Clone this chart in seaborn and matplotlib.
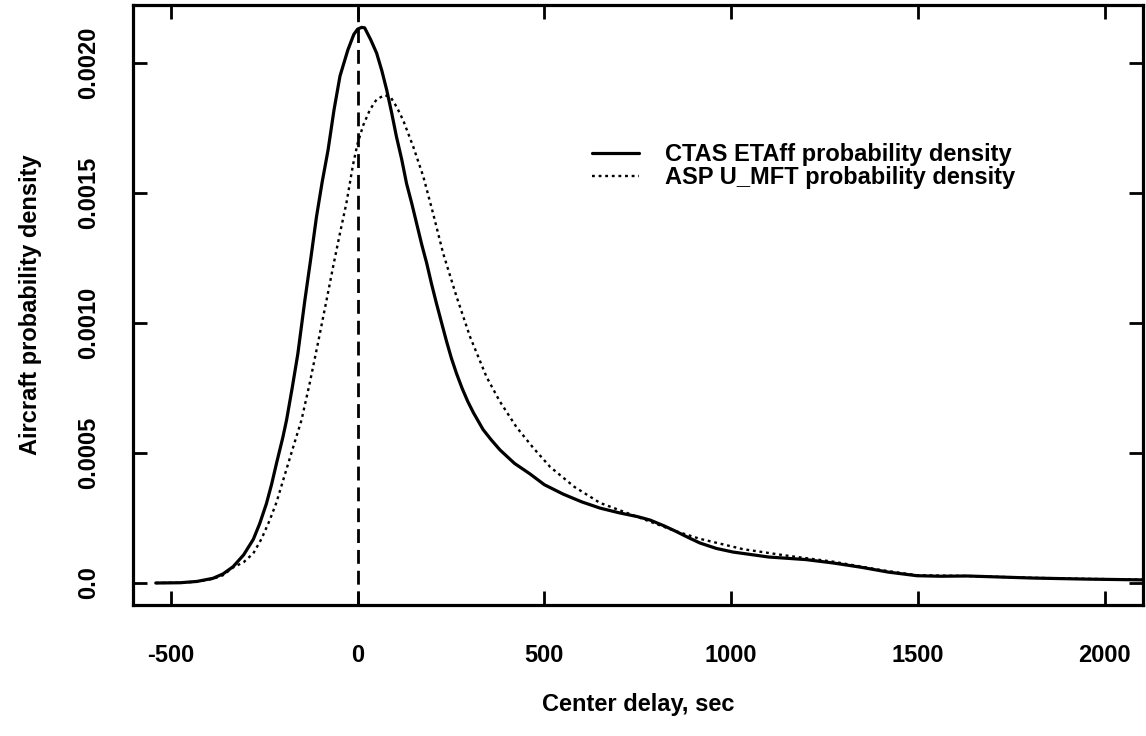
import numpy as np
import pandas as pd
import matplotlib
matplotlib.use("Agg")
import matplotlib.pyplot as plt
import seaborn as sns

# ---- data ----
ctas_x = [-540, -475, -430, -387, -360, -333, -305, -279, -262, -244, -230, -217, -200, -190,
          -175, -160, -141, -125, -110, -95, -79, -63, -47, -26, -10, 0, 11, 19, 35, 51, 65,
          78, 91, 104, 118, 131, 145, 158, 172, 185, 198, 211, 225, 238, 251, 265, 280, 295,
          310, 336, 358, 381, 420, 461, 500, 550, 600, 649, 700, 750, 783, 820, 850, 885, 916,
          960, 1005, 1100, 1200, 1273, 1350, 1420, 1497, 1560, 1631, 1720, 1808, 1950, 2100]
ctas_y = [0.0, 0.000001, 0.000006, 0.000018, 0.000035, 0.000063, 0.000108, 0.000168, 0.000228,
          0.000305, 0.00038, 0.00046, 0.00056, 0.000627, 0.00075, 0.00088, 0.001088, 0.00125,
          0.001408, 0.00154, 0.001665, 0.00182, 0.00195, 0.00205, 0.00211, 0.00213, 0.002137,
          0.002135, 0.00209, 0.002038, 0.00197, 0.001896, 0.00181, 0.001717, 0.00163, 0.001537,
          0.00146, 0.001383, 0.0013, 0.00123, 0.00115, 0.001076, 0.001, 0.00093, 0.000865,
          0.000805, 0.000748, 0.000698, 0.000655, 0.00059, 0.00055, 0.000512, 0.00046, 0.00042,
          0.000378, 0.000342, 0.000312, 0.000288, 0.00027, 0.000255, 0.000242, 0.00022, 0.0002,
          0.000175, 0.000154, 0.000133, 0.000119, 0.0001, 0.00009, 0.000077, 0.00006, 0.000042,
          0.000028, 0.000026, 0.000027, 0.000023, 0.000019, 0.000015, 0.000012]

asp_x = [-540, -475, -430, -387, -360, -333, -305, -279, -257, -235, -217, -199, -172, -150,
         -128, -105, -83, -65, -47, -30, -12, 0, 15, 33, 51, 73, 90, 105, 122, 149, 176, 202,
         229, 265, 301, 345, 380, 425, 470, 515, 580, 649, 720, 783, 850, 916, 1032, 1150,
         1273, 1400, 1496, 1630, 1808, 1950, 2100]
asp_y = [0.0, 0.000001, 0.000005, 0.000016, 0.00003, 0.00006, 0.00008, 0.000114, 0.00017,
         0.000242, 0.00031, 0.000396, 0.000524, 0.000627, 0.000769, 0.00093, 0.001088, 0.00122,
         0.001346, 0.00146, 0.00161, 0.00169, 0.00176, 0.00182, 0.00186, 0.001877, 0.001865,
         0.00183, 0.00178, 0.001678, 0.001563, 0.001422, 0.001268, 0.001101, 0.000947,
         0.000793, 0.0007, 0.0006, 0.00052, 0.000447, 0.00037, 0.000308, 0.00027, 0.000236,
         0.0002, 0.00017, 0.00013, 0.000105, 0.000082, 0.00005, 0.00003, 0.000027, 0.00002,
         0.000016, 0.000013]

series_labels = ["CTAS ETAff probability density", "ASP U_MFT probability density"]
x_ticks = [-500, 0, 500, 1000, 1500, 2000]
y_ticks = [0.0, 0.0005, 0.0010, 0.0015, 0.0020]
y_tick_labels = ["0.0", "0.0005", "0.0010", "0.0015", "0.0020"]
ref_line_x = 0

df = pd.concat([
    pd.DataFrame({"delay": ctas_x, "density": ctas_y, "series": series_labels[0]}),
    pd.DataFrame({"delay": asp_x, "density": asp_y, "series": series_labels[1]}),
], ignore_index=True)

sns.set_style("ticks")
plt.rcParams["font.family"] = ["Liberation Sans", "DejaVu Sans"]
plt.rcParams["font.weight"] = "bold"
plt.rcParams["text.color"] = "black"
plt.rcParams["axes.labelcolor"] = "black"
plt.rcParams["axes.labelweight"] = "bold"

FS = 17

fig = plt.figure(figsize=(11.46, 7.36), dpi=100)
ax = fig.add_axes([133 / 1146, 131 / 736, (1143 - 133) / 1146, (605 - 5) / 736])

sns.lineplot(data=df[df.series == series_labels[0]], x="delay", y="density", ax=ax,
             color="black", linewidth=2.3, sort=False, label=series_labels[0])
sns.lineplot(data=df[df.series == series_labels[1]], x="delay", y="density", ax=ax,
             color="black", linewidth=1.7, sort=False, label=series_labels[1],
             linestyle=(0, (1.2, 1.6)))

ax.axvline(ref_line_x, ymin=0, ymax=1, color="black", linewidth=2.0,
           linestyle=(0, (5, 2.5)))

ax.set_xlim(-601, 2102)
ax.set_ylim(-0.0000846, 0.002223)
ax.set_xticks(x_ticks)
ax.set_xticklabels([str(v) for v in x_ticks], fontweight="bold")
ax.set_yticks(y_ticks)
ax.set_yticklabels(y_tick_labels, rotation=90, va="center", fontweight="bold")

for s in ax.spines.values():
    s.set_linewidth(2.3)
    s.set_color("black")
ax.tick_params(axis="both", which="major", direction="in", length=10, width=2,
               top=True, right=True, labelsize=FS, colors="black")
ax.tick_params(axis="x", pad=28)
ax.tick_params(axis="y", pad=24)

ax.set_xlabel("Center delay, sec", fontsize=FS, labelpad=19, fontweight="bold")
ax.set_ylabel("Aircraft probability density", fontsize=FS, labelpad=25, fontweight="bold")

leg = ax.legend(loc="upper left", bbox_to_anchor=(580 / 1146, (736 - 131) / 736),
                bbox_transform=fig.transFigure, frameon=False,
                prop={"size": FS, "weight": "bold"},
                handlelength=2.0, handletextpad=1.1, labelspacing=0.0, borderpad=0)

fig.savefig("out.png", dpi=100)
